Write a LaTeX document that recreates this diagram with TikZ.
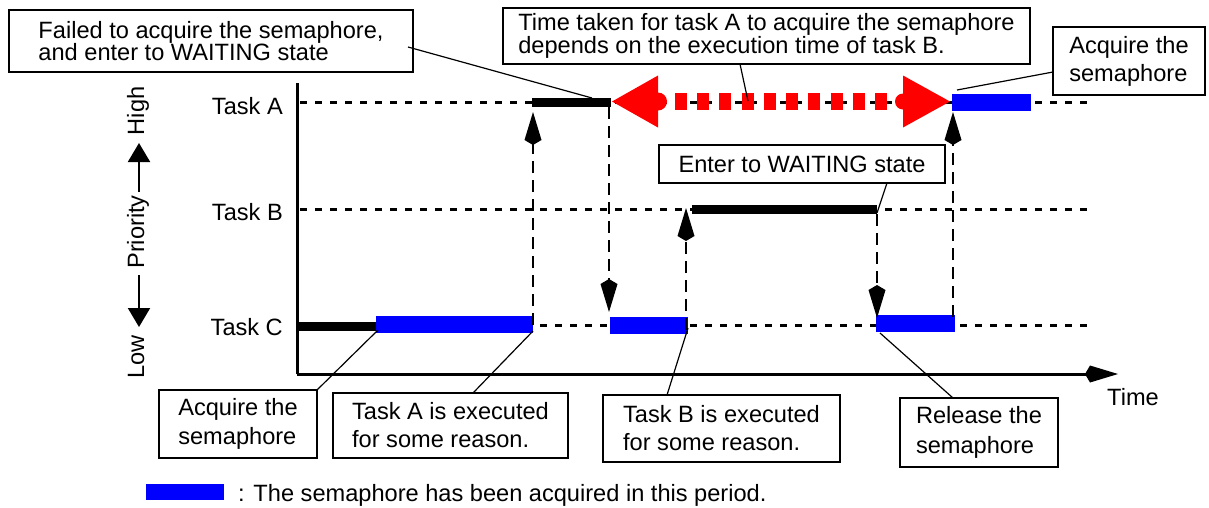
\documentclass[tikz,border=0pt]{standalone}
\usepackage{fontspec}
\setmainfont{Liberation Sans}
\usetikzlibrary{arrows.meta}
\begin{document}
\begin{tikzpicture}[x=1pt,y=-1pt,
  every node/.style={font=\fontsize{23.6}{26}\selectfont, inner sep=0pt},
  callout/.style={draw, line width=2.4pt, align=left, fill=white},
  leader/.style={line width=1.2pt},
  level/.style={line width=3pt, dash pattern=on 7pt off 8pt},
  drop/.style={line width=2.5pt, dash pattern=on 12pt off 7pt,
    -{Kite[length=33pt,width=17pt,inset=5pt]}},
  runbar/.style={line width=9pt},
  heldbar/.style={line width=17pt, blue},
  axis/.style={line width=3pt},
]
\useasboundingbox (0,0) rectangle (1209,507);

% priority levels
\coordinate (aL) at (300,102);  \coordinate (aR) at (1093,102);
\coordinate (bL) at (300,209.5); \coordinate (bR) at (1088,209.5);
\coordinate (cL) at (300,325);  \coordinate (cR) at (1090,325);
\draw[level] (aL) -- (aR);
\draw[level] (bL) -- (bR);
\draw[level] (cL) -- (cR);

% axes
\coordinate (origin) at (297,374);
\coordinate (ytop) at (297,83);
\coordinate (xend) at (1118,374);
\draw[axis] (ytop) -- (origin);
\draw[axis, -{Kite[length=33pt,width=17pt,inset=5pt]}] (origin) -- (xend);
\node (time) at (1133,397) {Time};

% task labels
\node[anchor=east] (ta) at (283,106) {Task A};
\node[anchor=east] (tb) at (283,212) {Task B};
\node[anchor=east] (tc) at (283,327) {Task C};

% priority scale
\node[rotate=90, anchor=base] (high) at (144,111) {High};
\node[rotate=90, anchor=base] (prio) at (144,232) {Priority};
\node[rotate=90, anchor=base] (low) at (144,357) {Low};
\coordinate (upS) at (139,192);  \coordinate (upT) at (139,143);
\coordinate (dnS) at (139,275);  \coordinate (dnT) at (139,327);
\draw[line width=2pt, -{Triangle[length=19pt,width=22pt]}] (upS) -- (upT);
\draw[line width=2pt, -{Triangle[length=19pt,width=22pt]}] (dnS) -- (dnT);

% execution bars
\coordinate (c0) at (299,326);   \coordinate (c1) at (376,326);
\draw[runbar] (c0) -- (c1);
\coordinate (h1s) at (376,324.5); \coordinate (h1e) at (533,324.5);
\draw[heldbar] (h1s) -- (h1e);
\coordinate (a0) at (532,102);   \coordinate (a1) at (611,102);
\draw[runbar] (a0) -- (a1);
\coordinate (h2s) at (610,325.5); \coordinate (h2e) at (688,325.5);
\draw[heldbar] (h2s) -- (h2e);
\coordinate (b0) at (692,209.5); \coordinate (b1) at (877,209.5);
\draw[runbar] (b0) -- (b1);
\coordinate (h3s) at (876,323.5); \coordinate (h3e) at (955,323.5);
\draw[heldbar] (h3s) -- (h3e);
\coordinate (h4s) at (952,102);  \coordinate (h4e) at (1031,102);
\draw[heldbar] (h4s) -- (h4e);

% task switches
\coordinate (s1a) at (533,325); \coordinate (s1b) at (533,112);
\coordinate (s2a) at (609,107); \coordinate (s2b) at (609,312);
\coordinate (s3a) at (686,330); \coordinate (s3b) at (686,208);
\coordinate (s4a) at (877,214); \coordinate (s4b) at (877,318);
\coordinate (s5a) at (953,317); \coordinate (s5b) at (953,112);
\draw[drop] (s1a) -- (s1b);
\draw[drop] (s2a) -- (s2b);
\draw[drop] (s3a) -- (s3b);
\draw[drop] (s4a) -- (s4b);
\draw[drop] (s5a) -- (s5b);

% waiting time of task A
\coordinate (waitL) at (612,101.5);
\coordinate (waitR) at (950,101.5);
\draw[red, line width=17pt, dash pattern=on 12pt off 10.22pt] (675,101.5) -- (887,101.5);
\fill[red] (waitL) -- ++(46,-26) -- ++(0,52) -- cycle;
\fill[red] (658,101.5) circle (9);
\fill[red] (waitR) -- ++(-47,-26) -- ++(0,52) -- cycle;
\fill[red] (903,101.5) circle (8);

% callouts
\node[callout, minimum width=404pt, minimum height=62pt, font=\fontsize{23.6}{22}\selectfont]
  (fail) at (211,41) {Failed to acquire the semaphore,\\and enter to WAITING state};
\node[callout, minimum width=527pt, minimum height=56pt, font=\fontsize{23.6}{23}\selectfont]
  (span) at (766.5,36) {Time taken for task A to acquire the semaphore\\depends on the execution time of task B.};
\node[callout, minimum width=152pt, minimum height=68pt, font=\fontsize{23.6}{28}\selectfont]
  (acqA) at (1129,61) {Acquire the\\semaphore};
\node[callout, minimum width=286pt, minimum height=38pt]
  (waitB) at (802,164) {Enter to WAITING state};
\node[callout, minimum width=158pt, minimum height=68pt, font=\fontsize{23.6}{29}\selectfont]
  (acqC) at (238,424) {Acquire the\\semaphore};
\node[callout, minimum width=235pt, minimum height=65pt, font=\fontsize{23.6}{28}\selectfont]
  (runA) at (450.5,425.5) {Task A is executed\\for some reason.};
\node[callout, minimum width=237pt, minimum height=67pt, font=\fontsize{23.6}{28}\selectfont]
  (runB) at (721.5,428.5) {Task B is executed\\for some reason.};
\node[callout, minimum width=158pt, minimum height=69pt, font=\fontsize{23.6}{30}\selectfont]
  (rel) at (979,432.5) {Release the\\semaphore};

% leaders
\coordinate (p1) at (592,98);   \draw[leader] (408,47) -- (p1);
\coordinate (p2) at (748,101);  \draw[leader] (740,64) -- (p2);
\coordinate (p3) at (957,90);   \draw[leader] (1053,72) -- (p3);
\coordinate (p4) at (877,213);  \draw[leader] (887,183) -- (p4);
\coordinate (p5) at (378,330);  \draw[leader] (317,390) -- (p5);
\coordinate (p6) at (533,331);  \draw[leader] (473,393) -- (p6);
\coordinate (p7) at (688,328);  \draw[leader] (667,395) -- (p7);
\coordinate (p8) at (880,333);  \draw[leader] (953,398) -- (p8);

% legend
\fill[blue] (146,484) rectangle (224,500);
\node[anchor=base west] (legend) at (238,501) {: The semaphore has been acquired in this period.};
\end{tikzpicture}
\end{document}
